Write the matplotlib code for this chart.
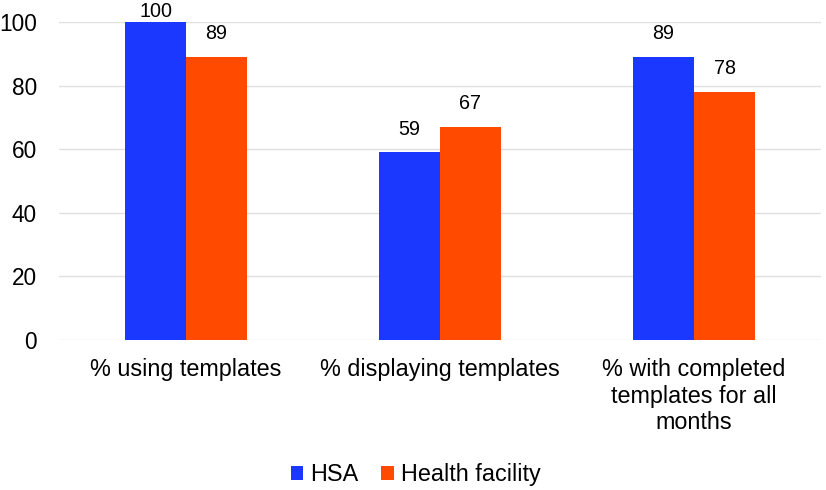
import matplotlib
matplotlib.use("Agg")
import matplotlib.pyplot as plt
import numpy as np

plt.rcParams['font.family'] = ['Liberation Sans', 'DejaVu Sans']

categories = ["% using templates", "% displaying templates", "% with completed\ntemplates for all\nmonths"]
series_names = ["HSA", "Health facility"]
hsa = [100, 59, 89]
facility = [89, 67, 78]
colors = ["#1a38ff", "#ff4a00"]

fig = plt.figure(figsize=(8.26, 4.9), dpi=100)
ax = fig.add_axes([0.0714, 0.306, 0.9226, 0.649])

x = np.arange(len(categories))
w = 0.24
b1 = ax.bar(x - w/2, hsa, w, color=colors[0], label=series_names[0], zorder=3)
b2 = ax.bar(x + w/2, facility, w, color=colors[1], label=series_names[1], zorder=3)
for bars in (b1, b2):
    for r in bars:
        h = r.get_height()
        off = 10 if h < 95 else 0.5
        ax.annotate(f"{int(h)}", (r.get_x() + r.get_width()/2, h),
                    xytext=(0, off), textcoords="offset points", ha="center", va="bottom",
                    fontsize=14.2, annotation_clip=False)

ax.set_xlim(-0.5, 2.5)
ax.set_ylim(0, 100)
ax.set_yticks(range(0, 101, 20))
ax.set_xticks(x)
ax.set_xticklabels(categories, fontsize=16.8, linespacing=1.2)
ax.tick_params(axis='y', labelsize=16.3, length=0, pad=16)
ax.tick_params(axis='x', length=0, pad=13)
ax.grid(axis='y', color='#e0e0e0', linewidth=1, zorder=0)
for s in ax.spines.values():
    s.set_visible(False)
ax.set_axisbelow(True)

fig.legend(handles=[b1, b2], labels=series_names, loc='center', bbox_to_anchor=(0.503, 0.032),
           ncol=2, frameon=False, fontsize=16.8, handlelength=0.52, handleheight=0.55,
           handletextpad=0.3, columnspacing=1.0)

fig.savefig("out.png", dpi=100)
